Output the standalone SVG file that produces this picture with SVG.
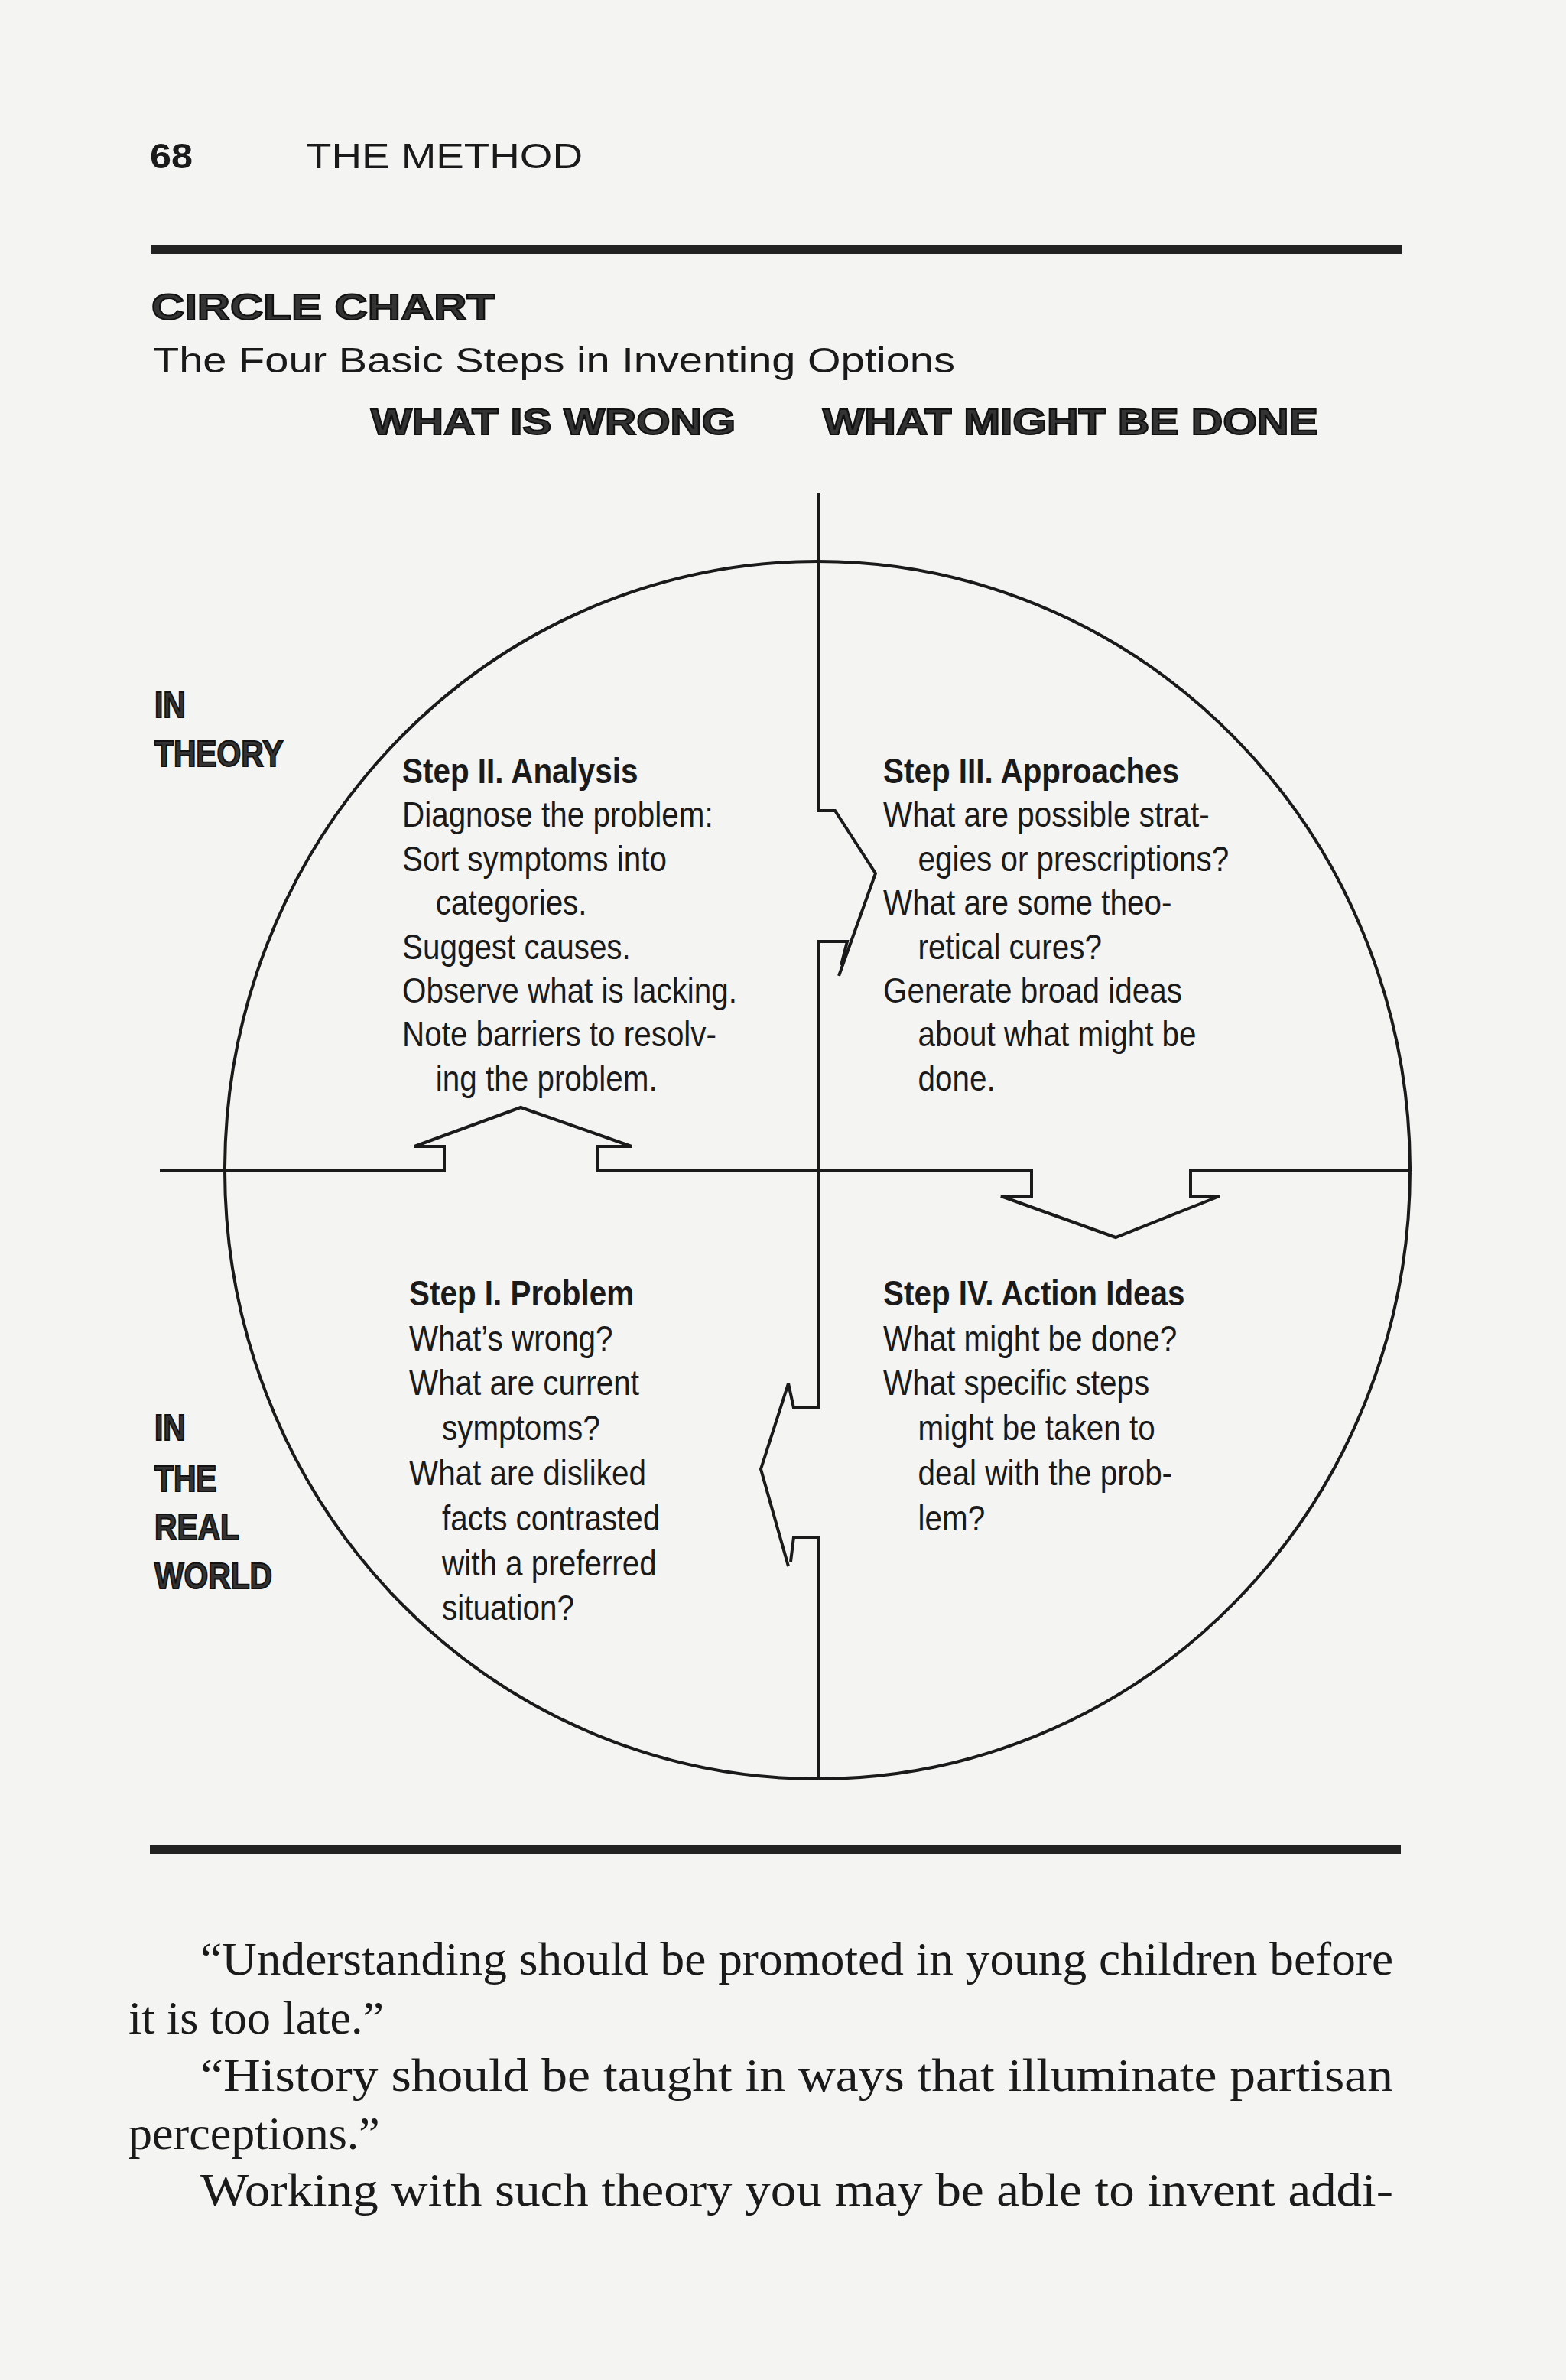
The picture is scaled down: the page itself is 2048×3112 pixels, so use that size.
<svg xmlns="http://www.w3.org/2000/svg" width="2048" height="3112" viewBox="0 0 2048 3112">
<style>
.t{font-family:"Liberation Sans",Arial,sans-serif;font-size:47px;fill:#1a1a1a}
.b{font-weight:bold}
.lab{font-family:"Liberation Sans",Arial,sans-serif;font-weight:900;font-size:48px;fill:#333;stroke:#111;stroke-width:2}
.body{font-family:"Liberation Serif","Times New Roman",serif;font-size:62px;fill:#1a1a1a}
.ln{fill:none;stroke:#1a1a1a;stroke-width:4;stroke-linejoin:miter}
</style>
<rect width="2048" height="3112" fill="#f4f4f2"/>
<g id="header">
<text x="196" y="220" class="t b" font-size="62" textLength="56" lengthAdjust="spacingAndGlyphs">68</text>
<text x="400" y="220" class="t" font-size="66" textLength="362" lengthAdjust="spacingAndGlyphs">THE METHOD</text>
<rect x="198" y="320" width="1636" height="12" fill="#222"/>
<text x="198" y="418" class="lab" font-size="64" textLength="449" lengthAdjust="spacingAndGlyphs">CIRCLE CHART</text>
<text x="200" y="487" class="t" font-size="62" textLength="1049" lengthAdjust="spacingAndGlyphs">The Four Basic Steps in Inventing Options</text>
<text x="485" y="568" class="lab" font-size="64" textLength="477" lengthAdjust="spacingAndGlyphs">WHAT IS WRONG</text>
<text x="1076" y="568" class="lab" font-size="64" textLength="648" lengthAdjust="spacingAndGlyphs">WHAT MIGHT BE DONE</text>
</g>
<g id="connectors">
<ellipse cx="1069" cy="1530" rx="775" ry="796" class="ln"/>
<path class="ln" d="M1071 645 V1060 H1092 L1145 1142 L1097 1276"/>
<path class="ln" d="M1071 1530 V1231 H1108 L1100 1262"/>
<path class="ln" d="M1071 1530 V1841 H1038 L1031 1809 M1031 1809 L995 1921 L1031 2048"/>
<path class="ln" d="M1071 2326 V2010 H1038 L1034 2042"/>
<path class="ln" stroke-width="6" d="M209 1530 H581 V1499 H542 L681 1448 L826 1499 H781 V1530 H1349 V1564 H1309 L1459 1618 L1595 1564 H1557 V1530 H1843"/>
</g>
<g id="labels" transform="matrix(0.85 0 0 1 202 0)">
<text x="0" y="938" class="lab">IN</text>
<text x="0" y="1002" class="lab">THEORY</text>
<text x="0" y="1883" class="lab">IN</text>
<text x="0" y="1950" class="lab">THE</text>
<text x="0" y="2013" class="lab">REAL</text>
<text x="0" y="2077" class="lab">WORLD</text>
</g>
<g id="step2" transform="matrix(0.86 0 0 1 526 0)">
<text class="t b" x="0" y="1024">Step II. Analysis</text>
<text class="t" x="0" y="1081">Diagnose the problem:</text>
<text class="t" x="0" y="1139">Sort symptoms into</text>
<text class="t" x="51" y="1196">categories.</text>
<text class="t" x="0" y="1254">Suggest causes.</text>
<text class="t" x="0" y="1311">Observe what is lacking.</text>
<text class="t" x="0" y="1368">Note barriers to resolv-</text>
<text class="t" x="51" y="1426">ing the problem.</text>
</g>
<g id="step3" transform="matrix(0.86 0 0 1 1155 0)">
<text class="t b" x="0" y="1024">Step III. Approaches</text>
<text class="t" x="0" y="1081">What are possible strat-</text>
<text class="t" x="53" y="1139">egies or prescriptions?</text>
<text class="t" x="0" y="1196">What are some theo-</text>
<text class="t" x="53" y="1254">retical cures?</text>
<text class="t" x="0" y="1311">Generate broad ideas</text>
<text class="t" x="53" y="1368">about what might be</text>
<text class="t" x="53" y="1426">done.</text>
</g>
<g id="step1" transform="matrix(0.86 0 0 1 535 0)">
<text class="t b" x="0" y="1707">Step I. Problem</text>
<text class="t" x="0" y="1766">What’s wrong?</text>
<text class="t" x="0" y="1824">What are current</text>
<text class="t" x="50" y="1883">symptoms?</text>
<text class="t" x="0" y="1942">What are disliked</text>
<text class="t" x="50" y="2001">facts contrasted</text>
<text class="t" x="50" y="2060">with a preferred</text>
<text class="t" x="50" y="2118">situation?</text>
</g>
<g id="step4" transform="matrix(0.86 0 0 1 1155 0)">
<text class="t b" x="0" y="1707">Step IV. Action Ideas</text>
<text class="t" x="0" y="1766">What might be done?</text>
<text class="t" x="0" y="1824">What specific steps</text>
<text class="t" x="53" y="1883">might be taken to</text>
<text class="t" x="53" y="1942">deal with the prob-</text>
<text class="t" x="53" y="2001">lem?</text>
</g>
<g id="footer">
<rect x="196" y="2412" width="1636" height="12" fill="#222"/>
<text class="body" x="262" y="2582" textLength="1560" lengthAdjust="spacingAndGlyphs">“Understanding should be promoted in young children before</text>
<text class="body" x="168" y="2659">it is too late.”</text>
<text class="body" x="262" y="2734" textLength="1560" lengthAdjust="spacingAndGlyphs">“History should be taught in ways that illuminate partisan</text>
<text class="body" x="168" y="2810">perceptions.”</text>
<text class="body" x="262" y="2884" textLength="1560" lengthAdjust="spacingAndGlyphs">Working with such theory you may be able to invent addi-</text>
</g>
</svg>
